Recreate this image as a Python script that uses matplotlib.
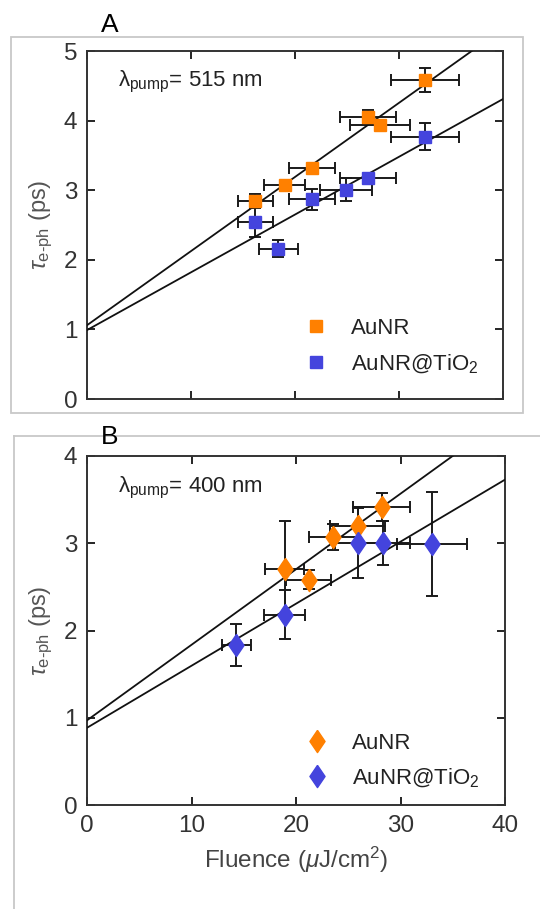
import matplotlib
matplotlib.use('Agg')
import matplotlib.pyplot as plt
from matplotlib.lines import Line2D
from matplotlib.patches import Rectangle
import numpy as np

plt.rcParams['font.family'] = ['Liberation Sans', 'DejaVu Sans']
plt.rcParams['mathtext.fontset'] = 'custom'
plt.rcParams['mathtext.rm'] = 'Liberation Sans'
plt.rcParams['mathtext.it'] = 'Liberation Sans:italic'

orange = '#FF8000'
blue = '#4444DD'

# panel A, pump 515 nm
a_au_x = [16.2, 19.0, 21.6, 27.0, 28.2, 32.5]
a_au_y = [2.85, 3.08, 3.32, 4.05, 3.94, 4.58]
a_au_xerr = [1.7, 2.0, 2.2, 2.7, 2.9, 3.3]
a_au_yerr = [0.1, 0.05, 0.06, 0.1, 0.05, 0.17]

a_ti_x = [16.2, 18.4, 21.6, 24.9, 27.0, 32.5]
a_ti_y = [2.55, 2.16, 2.87, 3.01, 3.18, 3.77]
a_ti_xerr = [1.7, 1.9, 2.2, 2.5, 2.7, 3.3]
a_ti_yerr = [0.22, 0.12, 0.15, 0.17, 0.05, 0.19]

a_fit_au = (1.06, 0.1065)   # intercept, slope
a_fit_ti = (0.99, 0.083)

# panel B, pump 400 nm
b_au_x = [18.9, 21.2, 23.5, 25.9, 28.2]
b_au_y = [2.70, 2.58, 3.07, 3.20, 3.42]
b_au_xerr = [1.9, 2.15, 2.3, 2.6, 2.7]
b_au_yerr = [0.55, 0.11, 0.15, 0.22, 0.16]

b_ti_x = [14.3, 18.9, 25.9, 28.3, 33.0]
b_ti_y = [1.83, 2.18, 3.00, 3.00, 2.99]
b_ti_xerr = [1.35, 1.95, 2.2, 2.6, 3.35]
b_ti_yerr = [0.24, 0.28, 0.4, 0.25, 0.6]

b_fit_au = (0.97, 0.0866)
b_fit_ti = (0.885, 0.0711)

labels = ['AuNR', r'AuNR@TiO$_2$']

# wider diamond than matplotlib's 'd'
diamond = [(0, 1), (0.68, 0), (0, -1), (-0.68, 0), (0, 1)]

fig = plt.figure(figsize=(5.4, 9.09), dpi=100)
W, H = 540., 909.

def fx(px):
    return px / W

def fy(py):
    return 1 - py / H

# light gray frames around the panels
fig.add_artist(Rectangle((fx(11), fy(412.7)), fx(523) - fx(11), fy(36.7) - fy(412.7),
                         transform=fig.transFigure, fill=False, ec='#c8c8c8', lw=1.3))
fig.add_artist(Line2D([fx(13.8), 1.0], [fy(435.5), fy(435.5)], transform=fig.transFigure,
                      color='#c8c8c8', lw=1.3))
fig.add_artist(Line2D([fx(13.8), fx(13.8)], [fy(435.5), 0.0], transform=fig.transFigure,
                      color='#c8c8c8', lw=1.3))

axA = fig.add_axes([fx(87), fy(399), fx(503) - fx(87), fy(51) - fy(399)])
axB = fig.add_axes([fx(87), fy(805), fx(505) - fx(87), fy(456) - fy(805)])

xx = np.array([0, 40])

def panel(ax, au, ti, fit_au, fit_ti, marker, ms, ymax, wl, wl_y, leg_y, spacing):
    for (x, y, xe, ye), c in [(au, orange), (ti, blue)]:
        ax.errorbar(x, y, xerr=xe, yerr=ye, fmt='none', ecolor='#1a1a1a',
                    elinewidth=1.4, capsize=4, capthick=1.4, zorder=2)
    ax.plot(xx, fit_au[0] + fit_au[1] * xx, color='#111111', lw=1.3, zorder=3)
    ax.plot(xx, fit_ti[0] + fit_ti[1] * xx, color='#111111', lw=1.3, zorder=3)
    ax.plot(au[0], au[1], ls='none', marker=marker, ms=ms, color=orange, mec=orange, zorder=4)
    ax.plot(ti[0], ti[1], ls='none', marker=marker, ms=ms, color=blue, mec=blue, zorder=4)
    ax.set_xlim(0, 40)
    ax.set_ylim(0, ymax)
    ax.set_xticks([0, 10, 20, 30, 40])
    ax.set_yticks(range(ymax + 1))
    ax.tick_params(direction='in', top=True, right=True, length=6, width=1.2,
                   labelsize=17.5, labelcolor='#333333', pad=7)
    for s in ax.spines.values():
        s.set_linewidth(1.4)
        s.set_color('#333333')
    ax.set_ylabel(r'$\tau_{\mathrm{e\text{-}ph}}$ (ps)', fontsize=17, color='#555555', labelpad=6)
    ax.text(3, wl_y, r'$\mathrm{\lambda}_{\mathrm{pump}}$= ' + wl + ' nm', fontsize=16,
            color='#222222', va='center')
    handles = [Line2D([], [], ls='none', marker=marker, ms=ms, color=orange, mec=orange),
               Line2D([], [], ls='none', marker=marker, ms=ms, color=blue, mec=blue)]
    ax.legend(handles, labels, loc='center left', bbox_to_anchor=(0.475, leg_y),
              frameon=False, fontsize=16, handlelength=1.0, handletextpad=1.1,
              labelspacing=spacing, labelcolor='#222222')

panel(axA, (a_au_x, a_au_y, a_au_xerr, a_au_yerr), (a_ti_x, a_ti_y, a_ti_xerr, a_ti_yerr),
      a_fit_au, a_fit_ti, 's', 8, 5, '515', 4.55, 0.15, 0.6)
axA.tick_params(labelbottom=False)

panel(axB, (b_au_x, b_au_y, b_au_xerr, b_au_yerr), (b_ti_x, b_ti_y, b_ti_xerr, b_ti_yerr),
      b_fit_au, b_fit_ti, diamond, 16, 4, '400', 3.63, 0.125, 0.55)
axB.set_xlabel(r'Fluence ($\mu$J/cm$^2$)', fontsize=17.5, color='#444444', labelpad=6)

fig.text(fx(110), fy(25), 'A', fontsize=19, ha='center', va='center')
fig.text(fx(110), fy(437), 'B', fontsize=19, ha='center', va='center')

fig.savefig('out.png', dpi=100)
